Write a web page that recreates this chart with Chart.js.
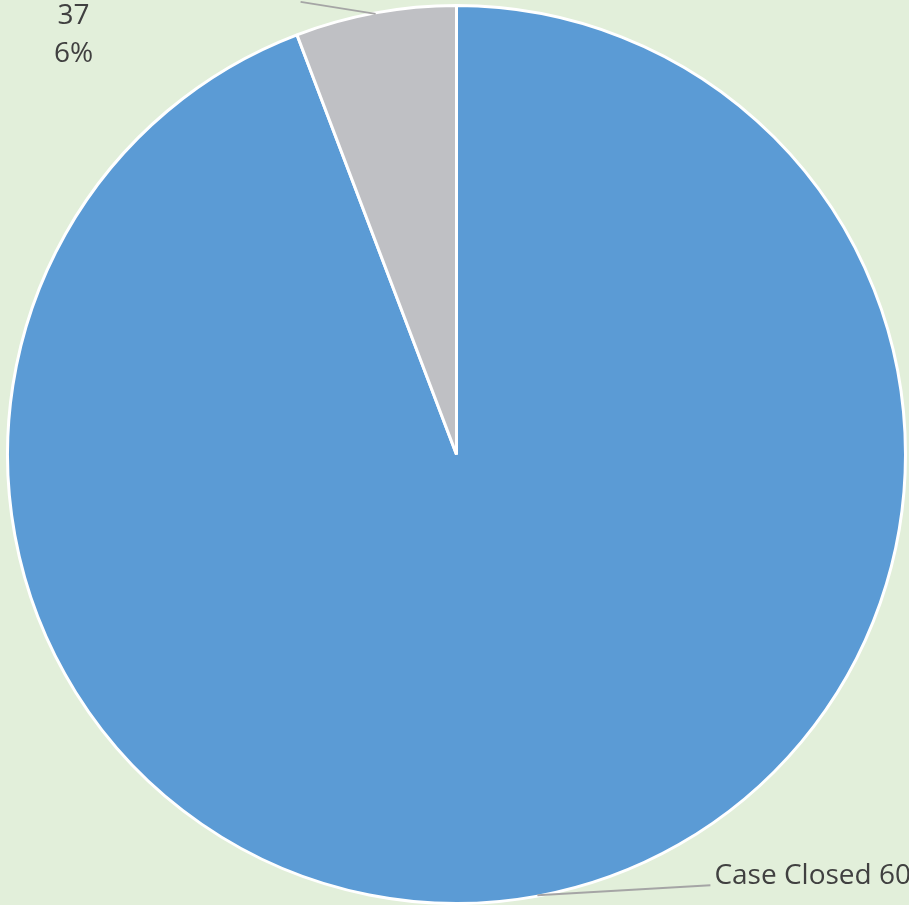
<!DOCTYPE html>
<html>
<head>
<meta charset="utf-8">
<script src="https://cdn.jsdelivr.net/npm/chart.js@4.4.1/dist/chart.umd.min.js"></script>
<style>
	html, body {
		margin: 0;
		padding: 0;
		background: #e2efda;
		overflow: hidden;
	}
	#pie-canvas {
		display: block;
	}
</style>
</head>
<body>
<canvas id="pie-canvas" width="909" height="905"></canvas>
<script>
// Values
var categories = ["Case Closed", "Open"];
var counts = [603, 37];
var colors = ["#5b9bd5", "#bfc0c4"];

// Where each label sits relative to the end of its leader line
var labelOffsets = [
	{ lineTo: [173, -10], text: [4, 0] },
	{ lineTo: [-75, -12], text: [-227, 0] },
];

const total = counts.reduce((a, b) => a + b, 0);

const leaderLabels = {
	id: "leaderLabels",
	afterDatasetsDraw(chart) {
		const ctx = chart.ctx;
		const meta = chart.getDatasetMeta(0);
		ctx.save();
		meta.data.forEach((arc, i) => {
			const p = arc.getProps(["x", "y", "startAngle", "endAngle", "outerRadius"], true);
			const mid = (p.startAngle + p.endAngle) / 2;
			const sx = p.x + Math.cos(mid) * (p.outerRadius - 1);
			const sy = p.y + Math.sin(mid) * (p.outerRadius - 1);
			const off = labelOffsets[i];
			const ex = sx + off.lineTo[0];
			const ey = sy + off.lineTo[1];

			ctx.strokeStyle = "#a5a5a5";
			ctx.lineWidth = 2;
			ctx.beginPath();
			ctx.moveTo(sx, sy);
			ctx.lineTo(ex, ey);
			ctx.stroke();

			ctx.fillStyle = "#404040";
			ctx.font = "28px 'Open Sans'";
			ctx.textBaseline = "middle";
			const pct = Math.round((counts[i] / total) * 100) + "%";
			const tx = ex + off.text[0];
			const ty = ey + off.text[1];
			if (i == 0) {
				// second line falls below the bottom edge, as in the source
				ctx.textAlign = "left";
				ctx.fillText(categories[i] + " " + counts[i], tx, ty - 9);
				ctx.fillText(pct, tx, ty + 40);
			} else {
				ctx.textAlign = "center";
				ctx.fillText(categories[i], tx, ty - 24);
				ctx.fillText(String(counts[i]), tx, ty + 14);
				ctx.fillText(pct, tx, ty + 52);
			}
		});
		ctx.restore();
	},
};

new Chart("pie-canvas", {
	type: "pie",
	data: {
		labels: categories,
		datasets: [
			{
				data: counts,
				backgroundColor: colors,
				borderColor: "#ffffff",
				borderWidth: 3,
			},
		],
	},
	options: {
		responsive: false,
		animation: false,
		layout: {
			padding: { left: 6, right: 2, top: 4, bottom: 0 },
		},
		plugins: {
			legend: {
				display: false,
			},
			tooltip: {
				enabled: false,
			},
		},
	},
	plugins: [leaderLabels],
});
</script>
</body>
</html>
